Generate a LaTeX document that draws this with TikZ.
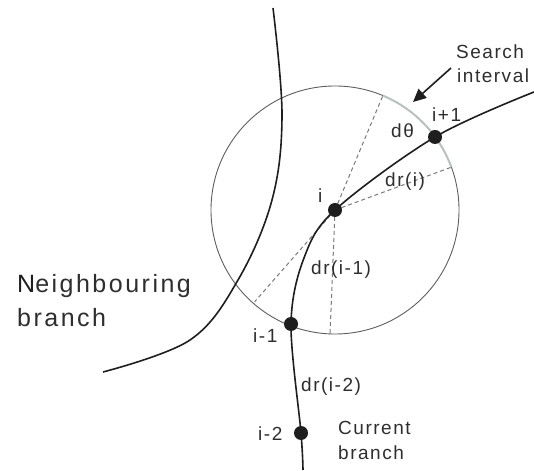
\documentclass[tikz,border=0pt]{standalone}
\usepackage{fontspec}
\setmainfont{Liberation Sans}
\newfontfamily\labfont{Liberation Sans}[LetterSpace=8]
\newfontfamily\nbfont{Liberation Sans}[LetterSpace=10]
\usetikzlibrary{arrows.meta,calc}
\definecolor{txt}{HTML}{2E2E2E}
\definecolor{ink}{HTML}{1E1E1E}
\definecolor{circ}{HTML}{5E5E5E}
\definecolor{sarc}{HTML}{B8C2C3}
\definecolor{dash}{HTML}{7A7A7A}
\tikzset{
  lab/.style={inner sep=0pt, anchor=base west, text=txt, font=\labfont\fontsize{19}{22}\selectfont},
  biglab/.style={inner sep=0pt, anchor=base west, text=txt, font=\nbfont\fontsize{25}{28}\selectfont},
  dot/.style={circle, fill=ink, draw=none, minimum size=14pt, inner sep=0pt},
  branchline/.style={draw=ink, line width=1.6pt},
  circline/.style={draw=circ, line width=0.9pt},
  searcharc/.style={draw=sarc, line width=2pt},
  dashline/.style={draw=dash, line width=1pt, dash pattern=on 4pt off 3pt},
  arrowline/.style={draw=ink, line width=1.6pt, -{Triangle[length=13pt,width=12pt]}}
}
\begin{document}
\begin{tikzpicture}[x=1pt,y=1pt]
\useasboundingbox (0,0) rectangle (534,470);
% key points
\coordinate (pi) at (335,260);
\coordinate (pip1) at (435,333);
\coordinate (pim1) at (291,146);
\coordinate (pim2) at (301,37);
\coordinate (cbot) at (303,0);
\coordinate (cend) at (534,378);
\coordinate (nbtop) at (273,462);
\coordinate (nbend) at (103,98);
% circle
\draw[circline] (pi) circle[radius=124];
\draw[searcharc] (pi) ++(20.2:124) arc[start angle=20.2, end angle=67.3, radius=124];
% dashed radii
\coordinate (dtop) at ($(pi)+(67.3:124)$);
\coordinate (dri) at ($(pi)+(20.2:124)$);
\coordinate (dbot) at ($(pi)+(267.7:124)$);
\coordinate (dll) at ($(pi)+(228.8:122)$);
\draw[dashline] (pi) -- (dtop);
\draw[dashline] (pi) -- (dri);
\draw[dashline] (pi) -- (dbot);
\draw[dashline] (pi) -- (dll);
% neighbouring branch
\draw[branchline] plot[smooth, tension=0.6] coordinates {(nbtop) (282,355) (272,270) (238,190) (190,130) (nbend)};
% current branch
\draw[branchline] plot[smooth, tension=0.55] coordinates {(cbot) (pim2) (pim1) (304,212) (pi) (pip1) (cend)};
% dots
\node[dot] (n0) at (pi) {};
\node[dot] (np1) at (pip1) {};
\node[dot] (nm1) at (pim1) {};
\node[dot] (nm2) at (pim2) {};
% arrow
\coordinate (arrS) at (451,402);
\coordinate (arrT) at (413,368);
\draw[arrowline] (arrS) -- (arrT);
% labels
\node[lab] (lsearch) at (456,411) {Search};
\node[lab] (linterval) at (457,387) {interval};
\node[lab] (lip1) at (432,348) {i+1};
\node[lab] (ldtheta) at (391,332) {dθ};
\node[lab] (ldri) at (385,283) {dr(i)};
\node[lab] (li) at (318,267) {i};
\node[lab] (ldrim1) at (311,195) {dr(i-1)};
\node[lab] (lim1) at (253,127) {i-1};
\node[lab] (ldrim2) at (301,78) {dr(i-2)};
\node[lab] (lim2) at (258,29) {i-2};
\node[lab] (lcur) at (338,35) {Current};
\node[lab] (lcurb) at (338,10) {branch};
\node[biglab] (lnb) at (17,177) {\textcolor{ink}{N}eighbouring};
\node[biglab] (lnbb) at (17,143) {branch};
\end{tikzpicture}
\end{document}
